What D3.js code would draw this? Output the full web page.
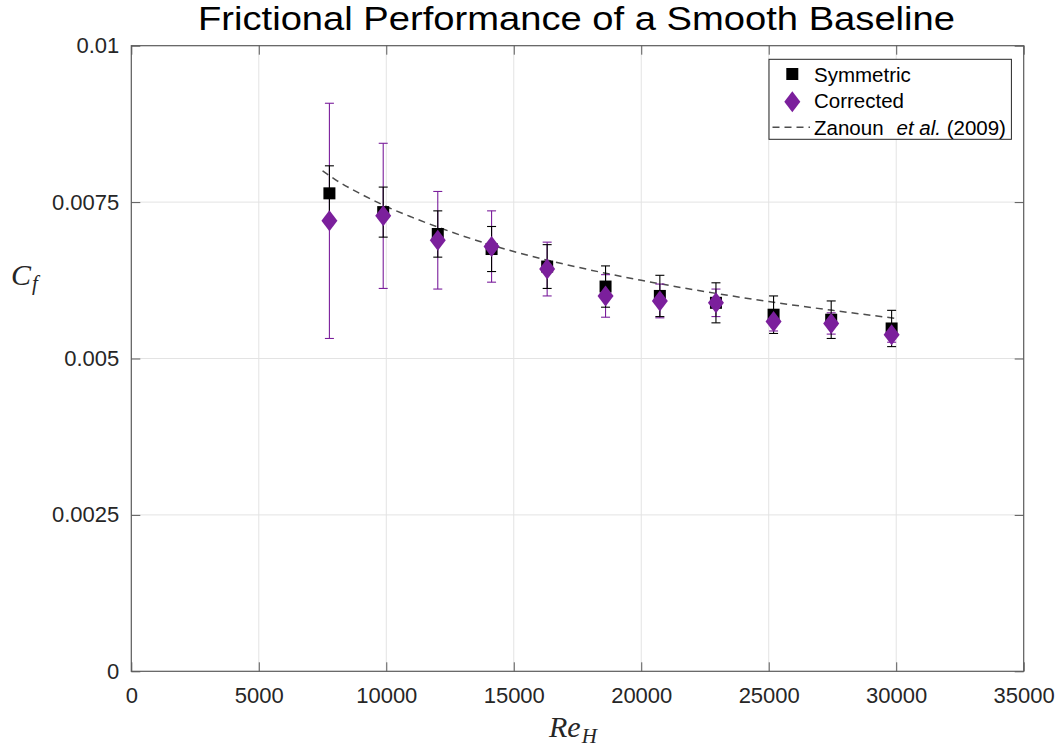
<!DOCTYPE html>
<html>
<head>
<meta charset="utf-8">
<script src="https://cdn.jsdelivr.net/npm/d3@7"></script>
<style>
  html, body { margin: 0; padding: 0; background: #fff; }
  svg { display: block; }
</style>
</head>
<body>
<svg id="chart" width="1064" height="747"></svg>
<script>
// Reynolds numbers of the measured cases
const reH = [7770, 9880, 12020, 14130, 16310, 18600, 20730, 22930, 25190, 27450, 29820];

// Symmetric estimate of skin friction and its uncertainty
const symCf  = [0.00764, 0.00734, 0.00699, 0.00675, 0.00647, 0.00615, 0.00600, 0.00589, 0.00570, 0.00562, 0.00548];
const symErr = [0.00044, 0.00040, 0.00037, 0.00036, 0.00035, 0.00033, 0.00033, 0.00032, 0.00030, 0.00030, 0.00029];

// Corrected estimate and its uncertainty
const corCf  = [0.00720, 0.00728, 0.00689, 0.00679, 0.00643, 0.00600, 0.00592, 0.00589, 0.00559, 0.00556, 0.00538];
const corErr = [0.00188, 0.00116, 0.00078, 0.00057, 0.00043, 0.00034, 0.00027, 0.00022, 0.00015, 0.00017, 0.00012];

// Reference correlation, Zanoun et al. (2009)
const zanRe = [7500, 8000, 9000, 10000, 11000, 12500, 15000, 17500, 20000, 22500, 25000, 27500, 30000];
const zanCf = [0.00800, 0.00786, 0.00763, 0.00743, 0.00726, 0.00703, 0.00671, 0.00646, 0.00625, 0.00607, 0.00591, 0.00577, 0.00564];

// Axis ticks
const xTicks = [0, 5000, 10000, 15000, 20000, 25000, 30000, 35000];
const yTicks = [0, 0.0025, 0.005, 0.0075, 0.01];
const yTickLabels = ["0", "0.0025", "0.005", "0.0075", "0.01"];

const purple = "#7b1f9c";
const axisColor = "#262626";
const font = "'Liberation Sans', Arial, Helvetica, sans-serif";
const serif = "'Liberation Serif', 'Times New Roman', serif";

const svg = d3.select("#chart");
const L = 131.3, R = 1023.7, T = 45.7, B = 671.3;

const x = d3.scaleLinear().domain([0, 35000]).range([L, R]);
const y = d3.scaleLinear().domain([0, 0.01]).range([B, T]);

// Grid
const grid = svg.append("g");
grid.selectAll(".gx").data(xTicks.slice(1, -1)).join("line")
  .attr("x1", d => x(d)).attr("x2", d => x(d)).attr("y1", T).attr("y2", B)
  .attr("stroke", "#e3e3e3").attr("stroke-width", 1);
grid.selectAll(".gy").data(yTicks.slice(1, -1)).join("line")
  .attr("x1", L).attr("x2", R).attr("y1", d => y(d)).attr("y2", d => y(d))
  .attr("stroke", "#e3e3e3").attr("stroke-width", 1);

// Axes: labelled bottom/left, inward ticks on all four sides
const tickLen = 9;
const xAxis = d3.axisBottom(x).tickValues(xTicks).tickSizeInner(-tickLen).tickSizeOuter(0).tickPadding(16).tickFormat(d3.format("d"));
const yAxis = d3.axisLeft(y).tickValues(yTicks).tickSizeInner(-tickLen).tickSizeOuter(0).tickPadding(12).tickFormat((d, i) => yTickLabels[i]);
const xTop = d3.axisTop(x).tickValues(xTicks).tickSizeInner(-tickLen).tickSizeOuter(0).tickFormat("");
const yRight = d3.axisRight(y).tickValues(yTicks).tickSizeInner(-tickLen).tickSizeOuter(0).tickFormat("");

function styleAxis(g) {
  g.select(".domain").remove();
  g.selectAll("line").attr("stroke", "#5a5a5a").attr("stroke-width", 1);
  g.selectAll("text").attr("fill", axisColor).style("font-family", font).style("font-size", "22px");
}
svg.append("g").attr("transform", `translate(0,${B})`).call(xAxis).call(styleAxis);
svg.append("g").attr("transform", `translate(${L},0)`).call(yAxis).call(styleAxis);
svg.append("g").attr("transform", `translate(0,${T})`).call(xTop).call(styleAxis);
svg.append("g").attr("transform", `translate(${R},0)`).call(yRight).call(styleAxis);

svg.append("rect").attr("x", L).attr("y", T).attr("width", R - L).attr("height", B - T)
  .attr("fill", "none").attr("stroke", "#5a5a5a").attr("stroke-width", 1.2);

// Zanoun correlation curve
const line = d3.line().x((d, i) => x(zanRe[i])).y(d => y(d)).curve(d3.curveMonotoneX);
svg.append("path").datum(zanCf).attr("d", line)
  .attr("fill", "none").attr("stroke", "#4d4d4d").attr("stroke-width", 1.5)
  .attr("stroke-dasharray", "7,5");

// Error bars
function errorBars(vals, errs, color, width, cap) {
  const g = svg.append("g").attr("stroke", color).attr("stroke-width", width);
  reH.forEach((re, i) => {
    const cx = x(re), y1 = y(vals[i] + errs[i]), y2 = y(vals[i] - errs[i]);
    g.append("line").attr("x1", cx).attr("x2", cx).attr("y1", y1).attr("y2", y2);
    g.append("line").attr("x1", cx - cap).attr("x2", cx + cap).attr("y1", y1).attr("y2", y1);
    g.append("line").attr("x1", cx - cap).attr("x2", cx + cap).attr("y1", y2).attr("y2", y2);
  });
}
errorBars(corCf, corErr, purple, 1.1, 4.5);
errorBars(symCf, symErr, "#000", 1.1, 4.5);

// Markers
const sq = 12;
svg.append("g").selectAll("rect").data(symCf).join("rect")
  .attr("x", (d, i) => x(reH[i]) - sq / 2).attr("y", d => y(d) - sq / 2)
  .attr("width", sq).attr("height", sq).attr("fill", "#000");

const dw = 8, dh = 10.5;
const diamond = `M0,${-dh}L${dw},0L0,${dh}L${-dw},0Z`;
svg.append("g").selectAll("path").data(corCf).join("path")
  .attr("transform", (d, i) => `translate(${x(reH[i])},${y(d)})`)
  .attr("d", diamond).attr("fill", purple);

// Title
svg.append("text").attr("x", 198).attr("y", 29.5)
  .attr("textLength", 757).attr("lengthAdjust", "spacingAndGlyphs")
  .style("font-family", font).style("font-size", "33px").attr("fill", "#000")
  .text("Frictional Performance of a Smooth Baseline");

// Axis labels
const yl = svg.append("text").attr("x", 11).attr("y", 285)
  .style("font-family", serif).style("font-style", "italic").style("font-size", "30px").attr("fill", axisColor);
yl.append("tspan").text("C");
yl.append("tspan").attr("dy", 5).attr("dx", 1).style("font-size", "21px").text("f");

const xl = svg.append("text").attr("x", 549).attr("y", 736.5)
  .style("font-family", serif).style("font-style", "italic").style("font-size", "30px").attr("fill", axisColor);
xl.append("tspan").text("Re");
xl.append("tspan").attr("dy", 6).attr("dx", 1).style("font-size", "21px").text("H");

// Legend
const lg = svg.append("g");
lg.append("rect").attr("x", 769).attr("y", 59.3).attr("width", 242.4).attr("height", 80)
  .attr("fill", "#fff").attr("stroke", "#262626").attr("stroke-width", 1);
lg.append("rect").attr("x", 792.3 - 6).attr("y", 74 - 6).attr("width", 12).attr("height", 12).attr("fill", "#000");
lg.append("path").attr("transform", "translate(792.3,101.7)").attr("d", diamond).attr("fill", purple);
lg.append("line").attr("x1", 772.5).attr("x2", 810).attr("y1", 127.3).attr("y2", 127.3)
  .attr("stroke", "#4d4d4d").attr("stroke-width", 1.5).attr("stroke-dasharray", "7,5");
const legendText = (ty) => lg.append("text").attr("x", 814).attr("y", ty)
  .style("font-family", font).style("font-size", "20.5px").attr("fill", "#000");
legendText(81.7).text("Symmetric");
legendText(108.3).text("Corrected");
const zt = legendText(135);
zt.append("tspan").text("Zanoun  ");
zt.append("tspan").attr("x", 896.5).style("font-style", "italic").text("et al.");
zt.append("tspan").text(" (2009)");
</script>
</body>
</html>
